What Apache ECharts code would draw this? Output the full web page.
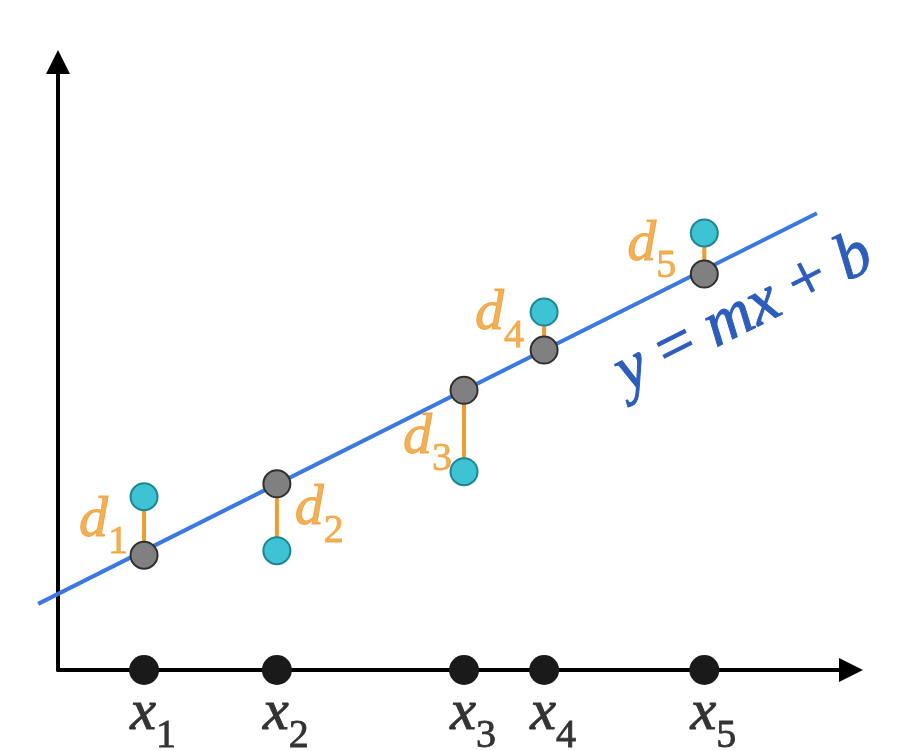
<!DOCTYPE html>
<html><head><meta charset="utf-8">
<script src="https://cdn.jsdelivr.net/npm/echarts@6/dist/echarts.min.js"></script>
<style>html,body{margin:0;padding:0;background:#fff}#c{width:901px;height:751px}</style>
</head><body><div id="c"></div>
<script>
// ---- data (arbitrary units) ----
const xPositions = [1.085, 2.76, 5.12, 6.13, 8.15];
const fittedY   = [1.51, 2.45, 3.68, 4.21, 5.21];
const observedY = [2.28, 1.57, 2.61, 4.71, 5.75];
const lineX = [-0.25, 9.57];
const lineY = [0.87, 6.01];
const xSubscripts = ['1', '2', '3', '4', '5'];
const dSubscripts = ['1', '2', '3', '4', '5'];

// ---- styling / layout ----
const SERIF = 'Liberation Serif';
const ORANGE = '#EF9C2E';
const dLayout = [
  { position: 'left',  distance: 16, offset: [0, 8] },
  { position: 'right', distance: 18, offset: [0, 5] },
  { position: 'left',  distance: 12, offset: [0, 20] },
  { position: 'left',  distance: 20, offset: [0, -4] },
  { position: 'left',  distance: 28, offset: [0, 4] }
];

const chart = echarts.init(document.getElementById('c'), null, { renderer: 'canvas' });

function subRich(color, main, sub) {
  return {
    v: { fontFamily: SERIF, fontStyle: 'italic', fontSize: main, color: color, textBorderColor: color, textBorderWidth: 1, verticalAlign: 'bottom', lineHeight: main, padding: [0, 0, 13, 0] },
    s: { fontFamily: SERIF, fontSize: sub, color: color, textBorderColor: color, textBorderWidth: 0.8, verticalAlign: 'bottom', lineHeight: sub }
  };
}

const axisCommon = {
  type: 'value',
  axisLine: { show: true, onZero: false, symbol: ['none', 'triangle'], symbolSize: [24, 24], lineStyle: { color: '#000', width: 4 } },
  axisTick: { show: false },
  axisLabel: { show: false },
  splitLine: { show: false }
};

const option = {
  animation: false,
  backgroundColor: '#fff',
  textStyle: { fontFamily: SERIF },
  grid: { left: 58, right: 50, top: 62, bottom: 81 },
  xAxis: Object.assign({}, axisCommon, { min: 0, max: 10 }),
  yAxis: Object.assign({}, axisCommon, { min: 0, max: 8 }),
  series: [
    {
      type: 'custom',
      data: [[lineX[0], lineY[0], lineX[1], lineY[1]]],
      clip: false,
      renderItem: function (params, api) {
        const a = api.coord([api.value(0), api.value(1)]);
        const b = api.coord([api.value(2), api.value(3)]);
        return { type: 'line', shape: { x1: a[0], y1: a[1], x2: b[0], y2: b[1] }, style: { stroke: '#3B78E0', lineWidth: 4 } };
      },
      z: 3
    },
    {
      type: 'custom',
      data: xPositions.map((x, i) => [x, fittedY[i], observedY[i]]),
      clip: false,
      renderItem: function (params, api) {
        const a = api.coord([api.value(0), api.value(1)]);
        const b = api.coord([api.value(0), api.value(2)]);
        return { type: 'line', shape: { x1: a[0], y1: a[1], x2: b[0], y2: b[1] }, style: { stroke: ORANGE, lineWidth: 4 } };
      },
      z: 4
    },
    {
      type: 'scatter',
      data: xPositions.map((x, i) => [x, fittedY[i]]),
      symbolSize: 27,
      itemStyle: { color: '#808080', borderColor: '#303030', borderWidth: 2, opacity: 1 },
      z: 5
    },
    {
      type: 'scatter',
      data: xPositions.map((x, i) => [x, observedY[i]]),
      symbolSize: 27,
      itemStyle: { color: '#3DC3D3', borderColor: '#1E8593', borderWidth: 2, opacity: 1 },
      z: 5
    },
    {
      type: 'scatter',
      data: xPositions.map((x, i) => ({
        value: [x, (fittedY[i] + observedY[i]) / 2],
        label: Object.assign({ formatter: '{v|d}{s|' + dSubscripts[i] + '}' }, dLayout[i])
      })),
      symbolSize: 0,
      label: { show: true, fontFamily: SERIF, rich: subRich(ORANGE, 58, 40) },
      z: 6
    },
    {
      type: 'scatter',
      data: xPositions.map((x, i) => ({
        value: [x, 0],
        label: { formatter: '{v|x}{s|' + xSubscripts[i] + '}' }
      })),
      symbolSize: 30,
      clip: false,
      itemStyle: { color: '#1A1A1A', opacity: 1 },
      label: { show: true, fontFamily: SERIF, position: 'bottom', distance: 13, offset: [9, 0], rich: subRich('#333', 58, 40) },
      z: 10
    }
  ],
  graphic: [{
    type: 'text',
    x: 744, y: 314,
    rotation: 26.7 * Math.PI / 180,
    style: {
      text: '{i|y}{o| = }{i|mx}{o| + }{i|b}',
      align: 'center', verticalAlign: 'middle',
      fontFamily: SERIF,
      rich: {
        i: { fontFamily: SERIF, fontStyle: 'italic', fontSize: 66, fill: '#2C5DBA', stroke: '#2C5DBA', lineWidth: 1 },
        o: { fontFamily: SERIF, fontSize: 66, fill: '#2C5DBA', stroke: '#2C5DBA', lineWidth: 1 }
      }
    },
    z: 20
  }]
};
chart.setOption(option);
</script>
</body></html>
